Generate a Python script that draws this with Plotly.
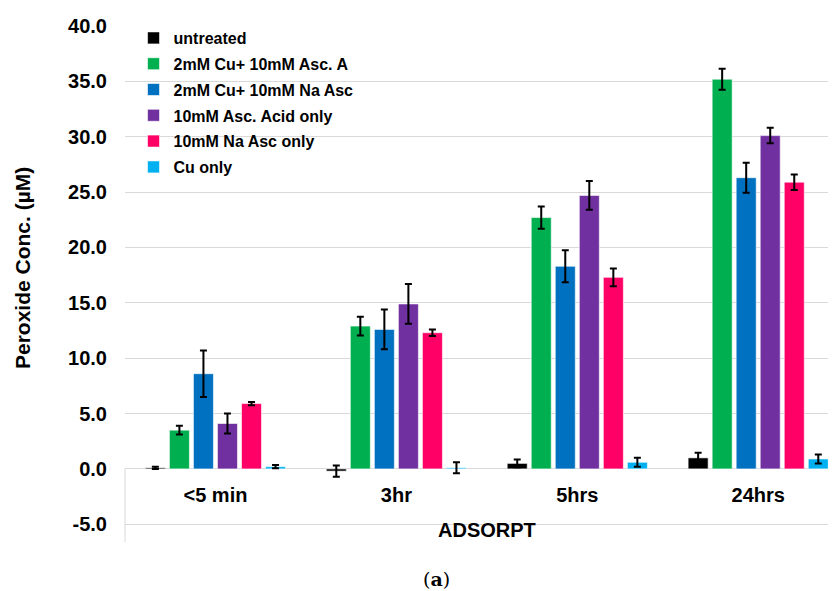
import plotly.graph_objects as go

categories = ["<5 min", "3hr", "5hrs", "24hrs"]
series_names = ["untreated", "2mM Cu+ 10mM Asc. A", "2mM Cu+ 10mM Na Asc",
                "10mM Asc. Acid only", "10mM Na Asc only", "Cu only"]
colors = ["#000000", "#00B050", "#0070C0", "#7030A0", "#FF0066", "#00B0F0"]

untreated = [0.1, -0.2, 0.5, 1.0]
untreated_err = [0.1, 0.5, 0.35, 0.45]
cu_asc_a = [3.5, 12.9, 22.7, 35.2]
cu_asc_a_err = [0.4, 0.85, 1.0, 0.95]
cu_na_asc = [8.6, 12.6, 18.3, 26.3]
cu_na_asc_err = [2.1, 1.8, 1.45, 1.35]
asc_acid_only = [4.1, 14.9, 24.7, 30.1]
asc_acid_only_err = [0.9, 1.8, 1.3, 0.7]
na_asc_only = [5.9, 12.3, 17.3, 25.9]
na_asc_only_err = [0.15, 0.3, 0.8, 0.7]
cu_only = [0.2, 0.1, 0.6, 0.9]
cu_only_err = [0.15, 0.5, 0.4, 0.4]

values = [untreated, cu_asc_a, cu_na_asc, asc_acid_only, na_asc_only, cu_only]
errors = [untreated_err, cu_asc_a_err, cu_na_asc_err, asc_acid_only_err,
          na_asc_only_err, cu_only_err]

y_ticks = [-5, 0, 5, 10, 15, 20, 25, 30, 35, 40]
y_min, y_max = -6.6, 40
x_title = "ADSORPT"
y_title = "Peroxide Conc. (µM)"
caption = "(<b>a</b>)"

FONT = "Arial, Liberation Sans, sans-serif"

fig = go.Figure()
for name, vals, errs, col in zip(series_names, values, errors, colors):
    fig.add_trace(go.Bar(
        x=categories, y=vals, name=name, legendgroup=name,
        marker=dict(color=col, line=dict(color="rgba(255,255,255,0.6)", width=1)),
        error_y=dict(type="data", array=errs, visible=True, color="black",
                     thickness=2, width=3.5),
    ))

zero_frac = (0 - y_min) / (y_max - y_min)

# page body has an 8px offset, so the figure is 8px smaller than the window
PL, PT, PW, PH = 125, 26, 711, 516  # plot area in window pixels


def px_x(x):
    return (x - PL) / PW


def px_y(y):
    return 1 - (y - PT) / PH


fig.update_layout(
    width=828, height=583,
    margin=dict(l=117, r=0, t=18, b=49),
    paper_bgcolor="white", plot_bgcolor="white",
    barmode="group", bargap=0.203, bargroupgap=0.167,
    font=dict(family=FONT, color="black"),
    showlegend=True,
    legend=dict(x=0.012, y=1.0097, xanchor="left", yanchor="top",
                font=dict(family=FONT, size=16, weight="bold", color="black"),
                bgcolor="rgba(0,0,0,0)", tracegroupgap=2, itemwidth=30),
    xaxis=dict(
        range=[-0.5, 3.43], anchor="free", position=zero_frac,
        showline=False, showgrid=False, zeroline=False, ticks="",
        automargin=False,
        tickfont=dict(family=FONT, size=20, weight="bold", color="black"),
        ticklabelstandoff=12,
    ),
    yaxis=dict(
        range=[y_min, y_max], tickvals=y_ticks,
        ticktext=[f"{v:.1f}" for v in y_ticks],
        showgrid=True, gridcolor="#D9D9D9", gridwidth=1,
        zeroline=True, zerolinecolor="#D9D9D9", zerolinewidth=1,
        showline=False, ticks="", ticklabelstandoff=17, automargin=False,
        tickfont=dict(family=FONT, size=20, weight="bold", color="black"),
    ),
)

fig.add_shape(type="line", xref="paper", yref="y", x0=0, x1=0, y0=0, y1=y_min,
              line=dict(color="#D9D9D9", width=1))

fig.add_annotation(text=x_title, xref="paper", yref="paper",
                   x=px_x(487), y=px_y(530), xanchor="center", yanchor="middle",
                   showarrow=False,
                   font=dict(family=FONT, size=20, weight="bold", color="black"))
fig.add_annotation(text=y_title, xref="paper", yref="paper", textangle=-90,
                   x=px_x(22), y=px_y(268), xanchor="center", yanchor="middle",
                   showarrow=False,
                   font=dict(family=FONT, size=21, weight="bold", color="black"))
fig.add_annotation(text=caption, xref="paper", yref="paper",
                   x=px_x(436), y=px_y(579), xanchor="center", yanchor="middle",
                   showarrow=False,
                   font=dict(family="DejaVu Serif, Liberation Serif, serif", size=19, color="black"))

fig.write_html("out.html")
